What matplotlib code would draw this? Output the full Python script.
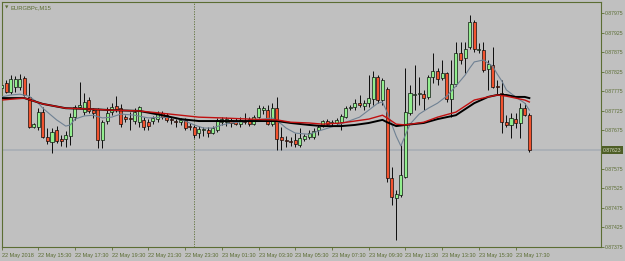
import numpy as np
import matplotlib
matplotlib.use("Agg")
import matplotlib.pyplot as plt
import matplotlib.transforms as mtransforms

plt.rcParams['font.family'] = ['Liberation Sans', 'DejaVu Sans']

# ---------------- data (prices in points, 1 point = 0.00001) ----------------
opens = [87783, 87796, 87772, 87785, 87785, 87808, 87760, 87683, 87683, 87721,
         87657, 87644, 87675, 87652, 87652, 87659, 87708, 87734, 87721, 87752,
         87726, 87729, 87649, 87698, 87721, 87737, 87731, 87708, 87706, 87698,
         87695, 87701, 87695, 87698, 87703, 87718, 87713, 87703, 87698, 87695,
         87701, 87685, 87683, 87667, 87675, 87675, 87667, 87675, 87695, 87695,
         87701, 87698, 87690, 87698, 87703, 87690, 87708, 87726, 87726, 87690,
         87731, 87657, 87649, 87646, 87649, 87636, 87652, 87657, 87657, 87675,
         87688, 87698, 87693, 87693, 87695, 87708, 87731, 87734, 87744, 87737,
         87744, 87754, 87811, 87752, 87780, 87551, 87500, 87508, 87554, 87718,
         87765, 87767, 87767, 87760, 87811, 87826, 87808, 87821, 87754, 87793,
         87873, 87860, 87888, 87953, 87881, 87881, 87832, 87842, 87788, 87770,
         87695, 87688, 87703, 87693, 87731, 87713]
highs = [87796, 87803, 87816, 87814, 87819, 87814, 87796, 87693, 87731, 87734,
         87680, 87680, 87685, 87662, 87672, 87718, 87739, 87798, 87770, 87760,
         87731, 87731, 87701, 87734, 87744, 87762, 87742, 87713, 87721, 87731,
         87737, 87708, 87703, 87711, 87724, 87724, 87718, 87708, 87703, 87706,
         87706, 87693, 87688, 87685, 87683, 87683, 87685, 87706, 87708, 87708,
         87706, 87706, 87708, 87718, 87708, 87713, 87739, 87737, 87739, 87744,
         87760, 87683, 87659, 87657, 87667, 87680, 87664, 87675, 87680, 87688,
         87701, 87703, 87701, 87706, 87716, 87737, 87739, 87754, 87765, 87752,
         87816, 87826, 87816, 87808, 87785, 87580, 87521, 87636, 87834, 87790,
         87842, 87811, 87778, 87816, 87873, 87834, 87855, 87824, 87855, 87901,
         87901, 87901, 87970, 87958, 87898, 87901, 87855, 87888, 87803, 87803,
         87713, 87718, 87718, 87744, 87744, 87718]
lows = [87780, 87770, 87767, 87772, 87778, 87762, 87680, 87680, 87675, 87654,
        87639, 87616, 87641, 87634, 87631, 87636, 87701, 87731, 87713, 87718,
        87706, 87629, 87629, 87690, 87713, 87721, 87683, 87695, 87675, 87690,
        87683, 87675, 87675, 87690, 87695, 87703, 87695, 87690, 87683, 87688,
        87675, 87675, 87654, 87654, 87659, 87657, 87664, 87670, 87688, 87685,
        87683, 87688, 87683, 87690, 87685, 87688, 87706, 87716, 87688, 87685,
        87623, 87623, 87631, 87634, 87631, 87631, 87646, 87652, 87652, 87662,
        87683, 87688, 87685, 87688, 87675, 87706, 87726, 87726, 87734, 87726,
        87734, 87739, 87744, 87739, 87541, 87482, 87392, 87503, 87551, 87713,
        87726, 87739, 87726, 87754, 87796, 87790, 87803, 87747, 87708, 87788,
        87844, 87821, 87883, 87875, 87873, 87824, 87778, 87783, 87765, 87667,
        87683, 87654, 87680, 87654, 87711, 87618]
closes = [87790, 87772, 87806, 87806, 87806, 87765, 87683, 87690, 87721, 87657,
          87646, 87670, 87646, 87646, 87662, 87708, 87734, 87739, 87747, 87724,
          87718, 87649, 87695, 87718, 87734, 87729, 87690, 87703, 87703, 87721,
          87734, 87683, 87685, 87706, 87718, 87708, 87701, 87701, 87695, 87701,
          87680, 87683, 87662, 87677, 87677, 87667, 87680, 87701, 87703, 87703,
          87693, 87690, 87701, 87695, 87690, 87708, 87731, 87731, 87690, 87731,
          87652, 87649, 87646, 87644, 87639, 87654, 87659, 87667, 87672, 87683,
          87698, 87690, 87695, 87701, 87711, 87731, 87734, 87744, 87739, 87744,
          87757, 87811, 87752, 87803, 87551, 87503, 87510, 87559, 87721, 87770,
          87767, 87770, 87757, 87811, 87826, 87806, 87821, 87754, 87793, 87873,
          87855, 87883, 87953, 87883, 87883, 87829, 87844, 87785, 87785, 87695,
          87688, 87706, 87693, 87731, 87713, 87623]

# moving averages read at sample bars
slow_idx = [0, 5, 9, 14, 19, 24, 30, 35, 39, 43, 48, 54, 60, 63, 67, 70, 74, 77, 80,
            83, 84, 86, 88, 92, 95, 99, 103, 106, 108, 110, 112, 114, 115]
ma_black = [87757, 87757, 87742, 87731, 87729, 87726, 87724, 87713, 87703, 87698,
            87698, 87698, 87698, 87693, 87688, 87685, 87685, 87688, 87693, 87701,
            87695, 87685, 87688, 87693, 87703, 87713, 87744, 87760, 87765, 87765,
            87760, 87760, 87757]
ma_red = [87752, 87757, 87742, 87731, 87729, 87726, 87724, 87718, 87713, 87708,
          87706, 87703, 87701, 87695, 87693, 87690, 87693, 87698, 87703, 87713,
          87706, 87690, 87688, 87695, 87708, 87721, 87752, 87760, 87765, 87762,
          87757, 87752, 87747]
fast_idx = [0, 2, 4, 6, 8, 9, 11, 12, 14, 15, 16, 18, 20, 22, 24, 26, 29, 32, 35, 38,
            40, 42, 44, 46, 48, 50, 54, 57, 59, 61, 62, 64, 67, 69, 72, 75, 78, 80,
            82, 83, 84, 85, 86, 87, 88, 89, 91, 93, 95, 97, 99, 101, 102, 103, 105,
            107, 108, 109, 110, 112, 114, 115]
ma_fast = [87760, 87765, 87767, 87762, 87744, 87731, 87711, 87701, 87685, 87688,
           87703, 87711, 87713, 87706, 87708, 87716, 87713, 87706, 87708, 87706,
           87698, 87688, 87680, 87680, 87688, 87693, 87698, 87703, 87706, 87690,
           87680, 87667, 87664, 87672, 87683, 87695, 87708, 87726, 87744, 87747,
           87721, 87690, 87659, 87634, 87662, 87690, 87716, 87731, 87744, 87762,
           87788, 87816, 87834, 87850, 87855, 87839, 87819, 87801, 87778, 87760,
           87744, 87726]

bid = 87623
session_bar = 42          # 23 May 00:00
xtick_labels = ["22 May 2018", "22 May 15:30", "22 May 17:30", "22 May 19:30",
                "22 May 21:30", "22 May 23:30", "23 May 01:30", "23 May 03:30",
                "23 May 05:30", "23 May 07:30", "23 May 09:30", "23 May 11:30",
                "23 May 13:30", "23 May 15:30", "23 May 17:30"]
# price scale labels (0.87625 is hidden under the current-price box)
ytick_vals = [87375, 87425, 87475, 87525, 87575, 87675, 87725, 87775,
              87825, 87875, 87925, 87975]
symbol = "EURGBPc,M15"

P = 1e5
o = np.array(opens) / P
h = np.array(highs) / P
l = np.array(lows) / P
c = np.array(closes) / P
n = len(o)
x = np.arange(n)

# ---------------- styling ----------------
BG = '#c0c0c0'
OLIVE = '#5b6d33'
GREEN = '#92ee8e'
RED = '#f2532f'

W, H = 625, 261
fig = plt.figure(figsize=(W / 100, H / 100), dpi=100, facecolor=BG)
ax = fig.add_axes([2 / W, 14 / H, 599 / W, 245 / H])
ax.set_facecolor(BG)

# x mapping: bar i at pixel 1.5 + 4.59 i
step = 4.59
ax.set_xlim((2 - 1.5) / step, (601 - 1.5) / step)
ax.set_ylim((88009.2 - 2.571 * 247) / P, (88009.2 - 2.571 * 2) / P)

# bid line
ax.axhline(bid / P, color='#a5acb4', lw=1.1, zorder=1)
# period separator
ax.axvline(session_bar, color=OLIVE, lw=0.6, ls=(0, (1.5, 1.5)), zorder=1)

# candles
up = c >= o
ax.vlines(x, l, h, color='black', lw=0.65, zorder=2)
bottoms = np.minimum(o, c)
heights = np.maximum(np.abs(c - o), 0.000004)
ax.bar(x, heights, bottom=bottoms, width=0.66,
       color=np.where(up, GREEN, RED), edgecolor='black', linewidth=0.45, zorder=3)

# moving averages
ax.plot(fast_idx, np.array(ma_fast) / P, color='#6f8193', lw=0.8, zorder=4)
ax.plot(slow_idx, np.array(ma_red) / P, color='#c01010', lw=1.0, zorder=5)
ax.plot(slow_idx, np.array(ma_black) / P, color='black', lw=1.4, zorder=4)

# axes styling
for s in ax.spines.values():
    s.set_color(OLIVE)
    s.set_linewidth(0.8)

ax.yaxis.tick_right()
ax.set_yticks(np.array(ytick_vals) / P)
ax.set_yticklabels([f"{v / P:.5f}" for v in ytick_vals])
ax.tick_params(axis='y', colors=OLIVE, labelcolor=OLIVE, labelsize=3.7,
               length=2.0, width=0.6, pad=1.0, direction='out')

xt = [ax.get_xlim()[0]] + [8 * k for k in range(1, len(xtick_labels))]
ax.set_xticks(xt)
ax.set_xticklabels(xtick_labels, ha='left')
ax.tick_params(axis='x', colors=OLIVE, labelcolor=OLIVE, labelsize=4.0,
               length=2.5, width=0.6, pad=1.5, direction='out')

# current price label
trans = mtransforms.blended_transform_factory(ax.transAxes, ax.transData)
ax.text(1.0035, bid / P, f"{bid / P:.5f}", transform=trans, ha='left', va='center',
        fontsize=3.7, color='#d8dcc8',
        bbox=dict(boxstyle='square,pad=0.25', facecolor='#4e5e26', edgecolor='none'),
        clip_on=False, zorder=10)

# symbol title
fig.text(5 / W, 1 - 7.5 / H, "\u25BC", fontsize=3.2, color=OLIVE, va='center',
         ha='left', family='DejaVu Sans')
fig.text(10.5 / W, 1 - 7.5 / H, symbol, fontsize=4.2, color=OLIVE, va='center',
         ha='left')

fig.savefig("out.png", dpi=100, facecolor=BG)
